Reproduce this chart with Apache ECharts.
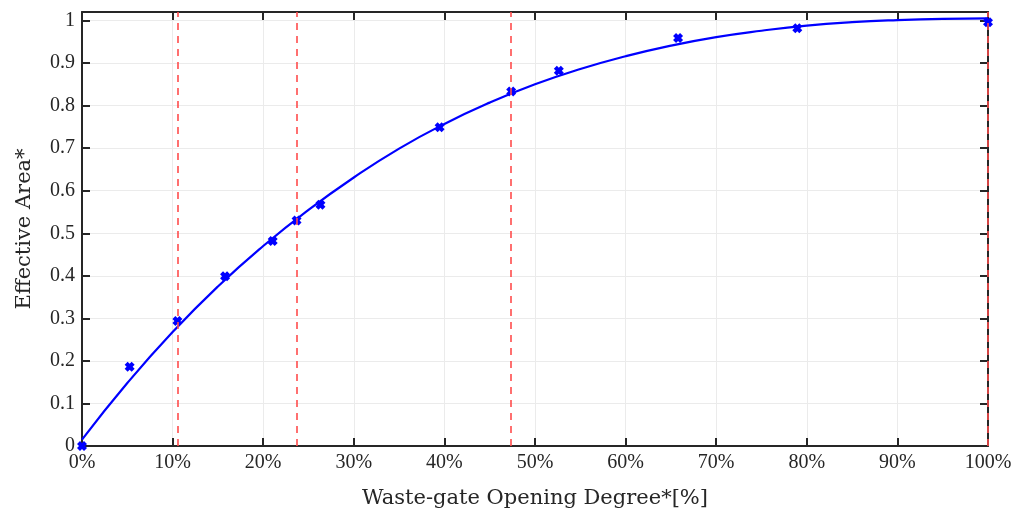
<!DOCTYPE html>
<html>
<head>
<meta charset="utf-8">
<script src="https://cdn.jsdelivr.net/npm/echarts@6/dist/echarts.min.js"></script>
<style>
    html, body {margin: 0; padding: 0; background: #fff;}
    #chart {width: 1025px; height: 516px;}
</style>
</head>
<body>
<div id="chart"></div>
<script>
// measured points (opening degree %, effective area)
var measX = [0, 5.26, 10.53, 15.79, 21.05, 23.68, 26.32, 39.47, 47.37, 52.63, 65.79, 78.95, 100];
var measY = [0, 0.186, 0.294, 0.399, 0.482, 0.530, 0.567, 0.749, 0.833, 0.882, 0.959, 0.982, 0.996];

// fitted curve, every 5%
var fitX = [0, 5, 10, 15, 20, 25, 30, 35, 40, 45, 50, 55, 60, 65, 70, 75, 80, 85, 90, 95, 100];
var fitY = [0.015, 0.148, 0.268, 0.375, 0.470, 0.555, 0.631, 0.699, 0.757, 0.807, 0.850, 0.886, 0.916, 0.941, 0.961, 0.976, 0.988, 0.996, 1.001, 1.004, 1.005];

// red dashed reference lines
var refLines = [10.53, 23.68, 47.37, 100];

var textColor = '#262626';
var tickFont = '"Liberation Serif", "DejaVu Serif", serif';
var nameFont = '"DejaVu Serif", "Liberation Serif", serif';

function zip(a, b) {
    var out = [];
    for (var i = 0; i < a.length; i++) {
        out.push([a[i], b[i]]);
    }
    return out;
}

function yLabel(v) {
    //只显示0.1的整数倍
    if (Math.abs(v * 10 - Math.round(v * 10)) > 1e-6) return '';
    return String(+v.toFixed(1));
}

var chart = echarts.init(document.getElementById('chart'));
var boxLine = {onZero: false, lineStyle: {color: textColor, width: 2}};
var tickIn = {inside: true, length: 8, lineStyle: {color: textColor, width: 2}};

var option = {
    animation: false,
    grid: {left: 82, right: 37, top: 12, bottom: 70},
    xAxis: [{
        type: 'value',
        min: 0,
        max: 100,
        interval: 10,
        position: 'bottom',
        axisLine: boxLine,
        axisTick: tickIn,
        axisLabel: {
            formatter: '{value}%',
            color: textColor,
            fontFamily: tickFont,
            fontSize: 20,
            margin: 7
        },
        splitLine: {show: true, lineStyle: {color: '#ebebeb', width: 1}},
        name: 'Waste-gate Opening Degree*[%]',
        nameLocation: 'middle',
        nameGap: 42,
        nameTextStyle: {color: textColor, fontFamily: nameFont, fontSize: 21}
    }, {
        type: 'value',
        min: 0,
        max: 100,
        interval: 10,
        position: 'top',
        axisLine: boxLine,
        axisTick: tickIn,
        axisLabel: {show: false},
        splitLine: {show: false}
    }],
    yAxis: [{
        type: 'value',
        min: 0,
        max: 1.02,
        interval: 0.1,
        position: 'left',
        axisLine: boxLine,
        axisTick: tickIn,
        axisLabel: {
            formatter: yLabel,
            color: textColor,
            fontFamily: tickFont,
            fontSize: 20,
            margin: 7
        },
        splitLine: {show: true, lineStyle: {color: '#ebebeb', width: 1}},
        name: 'Effective Area*',
        nameLocation: 'middle',
        nameGap: 47,
        nameTextStyle: {color: textColor, fontFamily: nameFont, fontSize: 21}
    }, {
        type: 'value',
        min: 0,
        max: 1.02,
        interval: 0.1,
        position: 'right',
        axisLine: boxLine,
        axisTick: tickIn,
        axisLabel: {show: false},
        splitLine: {show: false}
    }],
    series: [{
        name: 'fit',
        type: 'line',
        data: zip(fitX, fitY),
        smooth: true,
        showSymbol: false,
        lineStyle: {color: '#0000ff', width: 2.2},
        z: 3,
        markLine: {
            silent: true,
            symbol: 'none',
            label: {show: false},
            lineStyle: {color: '#ff4d4d', width: 1.6, type: [7, 6]},
            data: refLines.map(function (x) { return {xAxis: x}; })
        }
    }, {
        name: 'measured',
        type: 'scatter',
        data: zip(measX, measY),
        symbol: 'path://M0,3 L3,0 L5,2 L7,0 L10,3 L8,5 L10,7 L7,10 L5,8 L3,10 L0,7 L2,5 Z',
        symbolSize: 10,
        itemStyle: {color: '#0000ff', opacity: 1},
        z: 4
    }]
};
chart.setOption(option);
</script>
</body>
</html>
